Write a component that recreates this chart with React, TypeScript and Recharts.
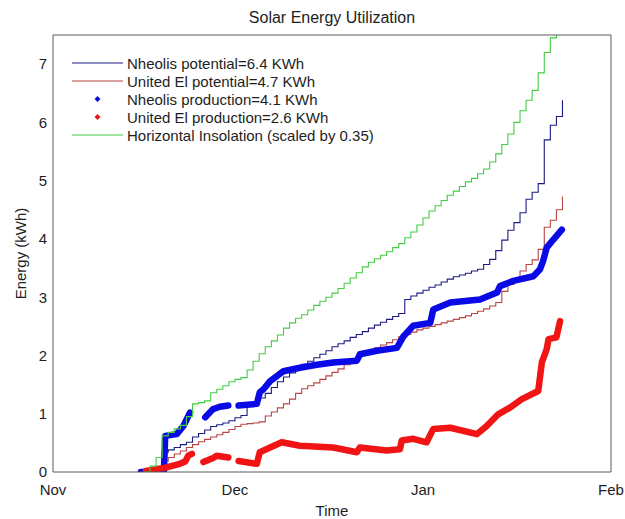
import React from 'react';
import { LineChart, Line, XAxis, YAxis, Legend, Label } from 'recharts';

const FONT = '"Liberation Sans", Arial, Helvetica, sans-serif';
const AXIS_COLOR = '#5a5a5a';
const TEXT_COLOR = '#1e1e1e';

// days since Nov 1
const potentialDays = [
  15, 16, 17, 18, 19, 20, 21, 22, 23, 24,
  25, 26, 27, 28, 29, 30, 31, 32, 33, 34,
  35, 36, 37, 38, 39, 40, 41, 42, 43, 44,
  45, 46, 47, 48, 49, 50, 51, 52, 53, 54,
  55, 56, 57, 58, 59, 60, 61, 62, 63, 64,
  65, 66, 67, 68, 69, 70, 71, 72, 73, 74,
  75, 76, 77, 78, 79, 80, 81, 82, 83, 84,
];

const nheolisPotential = [
  0, 0.02, 0.05, 0.34, 0.38, 0.42, 0.47, 0.51, 0.6, 0.66,
  0.72, 0.78, 0.81, 0.84, 0.88, 0.93, 0.97, 1.14, 1.2, 1.27,
  1.35, 1.45, 1.55, 1.63, 1.7, 1.78, 1.85, 1.9, 1.96, 2.02,
  2.08, 2.15, 2.2, 2.25, 2.31, 2.36, 2.41, 2.47, 2.52, 2.57,
  2.62, 2.67, 2.72, 2.96, 3.02, 3.07, 3.12, 3.17, 3.21, 3.26,
  3.31, 3.35, 3.38, 3.41, 3.45, 3.48, 3.56, 3.65, 3.8, 3.98,
  4.15, 4.28, 4.45, 4.68, 4.8, 4.95, 5.7, 5.95, 6.1, 6.38,
];

const unitedPotential = [
  0, 0.02, 0.04, 0.19, 0.25, 0.31, 0.36, 0.42, 0.47, 0.52,
  0.56, 0.6, 0.64, 0.68, 0.73, 0.78, 0.82, 0.83, 0.84, 0.86,
  0.96, 1.03, 1.1, 1.17, 1.25, 1.35, 1.43, 1.48, 1.53, 1.59,
  1.65, 1.71, 1.77, 1.84, 1.91, 1.98, 2.03, 2.08, 2.13, 2.18,
  2.22, 2.27, 2.32, 2.36, 2.4, 2.44, 2.47, 2.5, 2.53, 2.56,
  2.59, 2.62, 2.65, 2.68, 2.72, 2.76, 2.8, 2.85, 2.91, 3.1,
  3.22, 3.32, 3.45, 3.56, 3.64, 3.82, 4.2, 4.32, 4.5, 4.73,
];

const horizontalInsolation = [
  0, 0.1, 0.25, 0.62, 0.68, 0.74, 0.8, 0.95, 1.17, 1.19,
  1.22, 1.36, 1.42, 1.48, 1.55, 1.59, 1.62, 1.75, 1.9, 2.03,
  2.15, 2.25, 2.35, 2.47, 2.56, 2.64, 2.7, 2.78, 2.86, 2.93,
  3.0, 3.07, 3.15, 3.24, 3.33, 3.42, 3.52, 3.6, 3.66, 3.72,
  3.78, 3.85, 3.92, 4.02, 4.12, 4.24, 4.36, 4.48, 4.57, 4.66,
  4.75, 4.82, 4.9, 4.98, 5.04, 5.12, 5.2, 5.32, 5.46, 5.62,
  5.8, 6.0, 6.2, 6.38, 6.55, 6.85, 7.2, 7.45, 7.7, 7.9,
];

const nheolisProdDays = [
  14.5, 16.5, 18.3, 18.5, 20.4, 21.5, 22.6, 23.5,
  25.1, 26.4, 27.5, 28.9, 29.8,
  30.6, 33.6, 34.1, 34.7, 35.8, 38.0, 40.7, 43.5, 46.2, 50.1,
  50.6, 53.4, 56.7, 57.8, 59.4, 62.2, 62.7, 65.5, 70.4, 73.2,
  73.7, 75.9, 79.2, 80.3, 80.8, 81.4, 82.5, 83.9,
];
const nheolisProduction = [
  0, 0.01, 0.03, 0.62, 0.65, 0.79, 1.02, null,
  0.94, 1.08, 1.12, 1.14, null,
  1.14, 1.17, 1.37, 1.42, 1.56, 1.73, 1.79, 1.84, 1.88, 1.91,
  2.02, 2.08, 2.13, 2.33, 2.51, 2.56, 2.79, 2.91, 2.96, 3.08,
  3.19, 3.28, 3.36, 3.48, 3.62, 3.85, 3.99, 4.16,
];

const unitedProdDays = [
  15.3, 17.0, 18.7, 20.9, 21.8, 22.3, 22.9, 23.6,
  24.8, 26.4, 27.0, 28.9, 29.8,
  30.6, 33.6, 34.1, 35.8, 37.7, 40.7, 46.2, 50.1, 50.6, 55.0,
  57.2, 57.5, 59.4, 61.6, 62.7, 65.5, 69.9, 71.5, 73.4, 75.4,
  77.3, 80.0, 80.6, 81.4, 81.7, 83.0, 83.6,
];
const unitedProduction = [
  0.02, 0.05, 0.08, 0.14, 0.18, 0.28, 0.31, null,
  0.17, 0.24, 0.28, 0.25, null,
  0.19, 0.14, 0.34, 0.42, 0.51, 0.45, 0.42, 0.34, 0.42, 0.37,
  0.39, 0.54, 0.57, 0.51, 0.74, 0.76, 0.65, 0.79, 0.99, 1.11,
  1.25, 1.39, 1.88, 2.11, 2.28, 2.31, 2.59,
];

const monthTicks = [0, 30, 61, 92];
const monthLabels = ['Nov', 'Dec', 'Jan', 'Feb'];
const energyTicks = [0, 1, 2, 3, 4, 5, 6, 7];
const energyDomain: [number, number] = [0, 7.5];
const dayDomain: [number, number] = [0, 92];

const legendItems = [
  { name: 'Nheolis potential=6.4 KWh', color: '#1c1c84', kind: 'line' },
  { name: 'United El potential=4.7 KWh', color: '#b84444', kind: 'line' },
  { name: 'Nheolis production=4.1 KWh', color: '#0a0ae6', kind: 'dot' },
  { name: 'United El production=2.6 KWh', color: '#f01414', kind: 'dot' },
  { name: 'Horizontal Insolation (scaled by 0.35)', color: '#44cc44', kind: 'line' },
];

const toSeries = (xs: number[], ys: (number | null)[]) =>
  xs.map((d, i) => ({ day: d, value: ys[i] }));

const renderLegend = () => (
  <svg width={330} height={100} style={{ display: 'block' }}>
    {legendItems.map((it, i) => {
      const cy = 11 + i * 18;
      return (
        <g key={it.name}>
          {it.kind === 'line' ? (
            <line x1={7} x2={58} y1={cy} y2={cy} stroke={it.color} strokeWidth={1.2} />
          ) : (
            <polygon
              points={`32.5,${cy - 3} 35.5,${cy} 32.5,${cy + 3} 29.5,${cy}`}
              fill={it.color}
            />
          )}
          <text
            x={62}
            y={cy}
            dominantBaseline="central"
            fontFamily={FONT}
            fontSize={15}
            fill={TEXT_COLOR}
          >
            {it.name}
          </text>
        </g>
      );
    })}
  </svg>
);

export default function App() {
  const tickStyle = { fill: TEXT_COLOR, fontSize: 15, fontFamily: FONT };
  return (
    <div style={{ position: 'absolute', left: 0, top: 0, width: 625, height: 519, background: '#fff' }}>
      <LineChart width={625} height={519} margin={{ top: 35, right: 14, bottom: 17, left: 13 }}>
        <XAxis
          xAxisId="x"
          dataKey="day"
          type="number"
          domain={dayDomain}
          allowDataOverflow
          ticks={monthTicks}
          interval={0}
          tickFormatter={(v: number) => monthLabels[monthTicks.indexOf(v)]}
          height={30}
          tickLine={false}
          tickSize={0}
          tickMargin={12}
          axisLine={{ stroke: AXIS_COLOR }}
          tick={tickStyle}
        >
          <Label
            content={(p: any) => {
              const vb = p.viewBox || {};
              return (
                <text
                  x={vb.x + vb.width / 2}
                  y={vb.y + 38}
                  textAnchor="middle"
                  dominantBaseline="central"
                  fontFamily={FONT}
                  fontSize={15}
                  fill={TEXT_COLOR}
                >
                  Time
                </text>
              );
            }}
          />
        </XAxis>
        <XAxis
          xAxisId="xin"
          type="number"
          domain={dayDomain}
          allowDataOverflow
          ticks={monthTicks}
          interval={0}
          height={1}
          mirror
          tick={false}
          tickSize={5}
          axisLine={false}
          tickLine={{ stroke: AXIS_COLOR }}
        />
        <XAxis
          xAxisId="xtop"
          orientation="top"
          type="number"
          domain={dayDomain}
          allowDataOverflow
          ticks={monthTicks}
          interval={0}
          height={1}
          mirror
          tick={false}
          tickSize={5}
          axisLine={{ stroke: AXIS_COLOR }}
          tickLine={{ stroke: AXIS_COLOR }}
        >
          <Label
            content={(p: any) => {
              const vb = p.viewBox || {};
              return (
                <text
                  x={vb.x + vb.width / 2}
                  y={vb.y - 18}
                  textAnchor="middle"
                  dominantBaseline="central"
                  fontFamily={FONT}
                  fontSize={16}
                  fill={TEXT_COLOR}
                >
                  Solar Energy Utilization
                </text>
              );
            }}
          />
        </XAxis>
        <YAxis
          yAxisId="y"
          type="number"
          domain={energyDomain}
          allowDataOverflow
          ticks={energyTicks}
          interval={0}
          width={40}
          tickLine={false}
          tickSize={0}
          tickMargin={6}
          axisLine={{ stroke: AXIS_COLOR }}
          tick={tickStyle}
        >
          <Label
            content={(p: any) => {
              const vb = p.viewBox || {};
              const cx = vb.x + 7;
              const cy = vb.y + vb.height / 2;
              return (
                <text
                  x={cx}
                  y={cy}
                  transform={`rotate(-90 ${cx} ${cy})`}
                  textAnchor="middle"
                  dominantBaseline="central"
                  fontFamily={FONT}
                  fontSize={15}
                  fill={TEXT_COLOR}
                >
                  Energy (kWh)
                </text>
              );
            }}
          />
        </YAxis>
        <YAxis
          yAxisId="yin"
          type="number"
          domain={energyDomain}
          allowDataOverflow
          ticks={energyTicks}
          interval={0}
          width={1}
          mirror
          tick={false}
          tickSize={5}
          axisLine={false}
          tickLine={{ stroke: AXIS_COLOR }}
        />
        <YAxis
          yAxisId="yr"
          orientation="right"
          type="number"
          domain={energyDomain}
          allowDataOverflow
          ticks={energyTicks}
          interval={0}
          width={1}
          mirror
          tick={false}
          tickSize={5}
          axisLine={{ stroke: AXIS_COLOR }}
          tickLine={{ stroke: AXIS_COLOR }}
        />
        <Legend
          layout="vertical"
          align="center"
          verticalAlign="middle"
          content={renderLegend}
          wrapperStyle={{ left: 65, top: 52, width: 330, height: 100 }}
        />
        <Line
          xAxisId="x"
          yAxisId="y"
          data={toSeries(potentialDays, nheolisPotential)}
          dataKey="value"
          type="stepAfter"
          stroke="#1c1c84"
          strokeWidth={1.1}
          dot={false}
          activeDot={false}
          isAnimationActive={false}
        />
        <Line
          xAxisId="x"
          yAxisId="y"
          data={toSeries(potentialDays, unitedPotential)}
          dataKey="value"
          type="stepAfter"
          stroke="#b84444"
          strokeWidth={1.1}
          dot={false}
          activeDot={false}
          isAnimationActive={false}
        />
        <Line
          xAxisId="x"
          yAxisId="y"
          data={toSeries(nheolisProdDays, nheolisProduction)}
          dataKey="value"
          type="linear"
          stroke="#0a0ae6"
          strokeWidth={6.5}
          strokeLinecap="round"
          strokeLinejoin="round"
          dot={false}
          activeDot={false}
          isAnimationActive={false}
        />
        <Line
          xAxisId="x"
          yAxisId="y"
          data={toSeries(unitedProdDays, unitedProduction)}
          dataKey="value"
          type="linear"
          stroke="#f01414"
          strokeWidth={6.5}
          strokeLinecap="round"
          strokeLinejoin="round"
          dot={false}
          activeDot={false}
          isAnimationActive={false}
        />
        <Line
          xAxisId="x"
          yAxisId="y"
          data={toSeries(potentialDays, horizontalInsolation)}
          dataKey="value"
          type="stepAfter"
          stroke="#44cc44"
          strokeWidth={1.1}
          dot={false}
          activeDot={false}
          isAnimationActive={false}
        />
      </LineChart>
    </div>
  );
}
